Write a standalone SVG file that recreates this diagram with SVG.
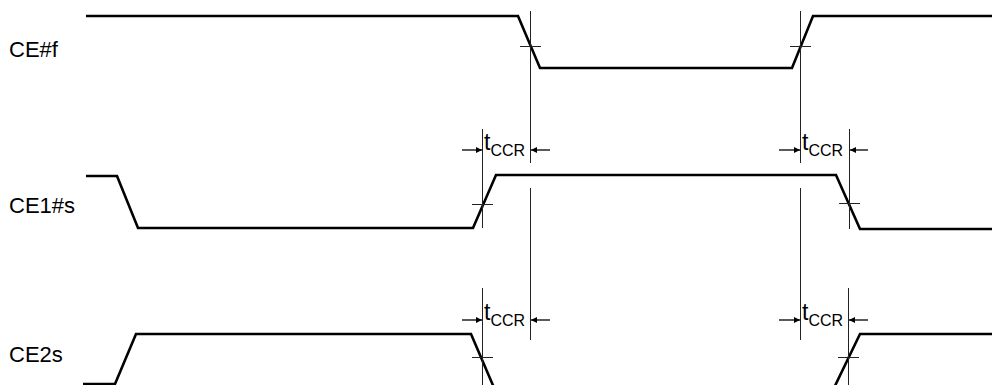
<svg xmlns="http://www.w3.org/2000/svg" width="992" height="385" viewBox="0 0 992 385">
<style>
.sig{fill:none;stroke:#000;stroke-width:2.6;stroke-linejoin:miter}
.ref{fill:none;stroke:#222;stroke-width:1}
.dim{fill:none;stroke:#000;stroke-width:1.3}
.lbl{font-family:"Liberation Sans",Arial,sans-serif;font-size:22px;fill:#000}
.tt{font-size:23px}
.sub{font-size:16px}
</style>
<defs>
<marker id="ah" viewBox="0 0 10 10" refX="10" refY="5" markerWidth="10" markerHeight="6" markerUnits="userSpaceOnUse" orient="auto">
<path d="M0,0 L10,5 L0,10 Z" fill="#000"/>
</marker>
</defs>
<rect width="992" height="385" fill="#fff"/>
<g id="ce-f">
<text class="lbl" x="9" y="57">CE#f</text>
<polyline class="sig" points="86,16 518,16 540,68 792,68 813,16 992,16"/>
</g>
<g id="ce1-s">
<text class="lbl" x="9" y="213">CE1#s</text>
<polyline class="sig" points="86,176 117,176 138,228 473,228 496,175 836,175 860,229 992,229"/>
</g>
<g id="ce2-s">
<text class="lbl" x="9" y="362">CE2s</text>
<polyline class="sig" points="83,384 115,384 136,334 471,334 495,390"/>
<polyline class="sig" points="833,390 860,334 992,334"/>
</g>
<g id="connectors">
<line class="ref" x1="530.5" y1="11" x2="530.5" y2="163"/>
<line class="ref" x1="800.5" y1="11" x2="800.5" y2="163"/>
<line class="ref" x1="520" y1="46.5" x2="541" y2="46.5"/>
<line class="ref" x1="790" y1="46.5" x2="811" y2="46.5"/>
<line class="ref" x1="482.5" y1="129" x2="482.5" y2="228"/>
<line class="ref" x1="849.5" y1="129" x2="849.5" y2="229"/>
<line class="ref" x1="472" y1="204.5" x2="493" y2="204.5"/>
<line class="ref" x1="839" y1="203.5" x2="860" y2="203.5"/>
<line class="ref" x1="530.5" y1="188" x2="530.5" y2="340"/>
<line class="ref" x1="800.5" y1="188" x2="800.5" y2="340"/>
<line class="ref" x1="482.5" y1="288" x2="482.5" y2="385"/>
<line class="ref" x1="848.5" y1="288" x2="848.5" y2="385"/>
<line class="ref" x1="472" y1="357.5" x2="493" y2="357.5"/>
<line class="ref" x1="838" y1="357.5" x2="859" y2="357.5"/>
</g>
<g id="tccr-1">
<line class="dim" x1="462" y1="150" x2="482" y2="150" marker-end="url(#ah)"/>
<line class="dim" x1="550" y1="150" x2="531" y2="150" marker-end="url(#ah)"/>
<text class="lbl tt" x="484" y="150">t<tspan class="sub" dy="6">CCR</tspan></text>
</g>
<g id="tccr-2">
<line class="dim" x1="779" y1="150" x2="800" y2="150" marker-end="url(#ah)"/>
<line class="dim" x1="868" y1="150" x2="850" y2="150" marker-end="url(#ah)"/>
<text class="lbl tt" x="802" y="150">t<tspan class="sub" dy="6">CCR</tspan></text>
</g>
<g id="tccr-3">
<line class="dim" x1="462" y1="320" x2="482" y2="320" marker-end="url(#ah)"/>
<line class="dim" x1="550" y1="320" x2="531" y2="320" marker-end="url(#ah)"/>
<text class="lbl tt" x="484" y="320">t<tspan class="sub" dy="6">CCR</tspan></text>
</g>
<g id="tccr-4">
<line class="dim" x1="779" y1="320" x2="800" y2="320" marker-end="url(#ah)"/>
<line class="dim" x1="868" y1="320" x2="849" y2="320" marker-end="url(#ah)"/>
<text class="lbl tt" x="802" y="320">t<tspan class="sub" dy="6">CCR</tspan></text>
</g>
</svg>
